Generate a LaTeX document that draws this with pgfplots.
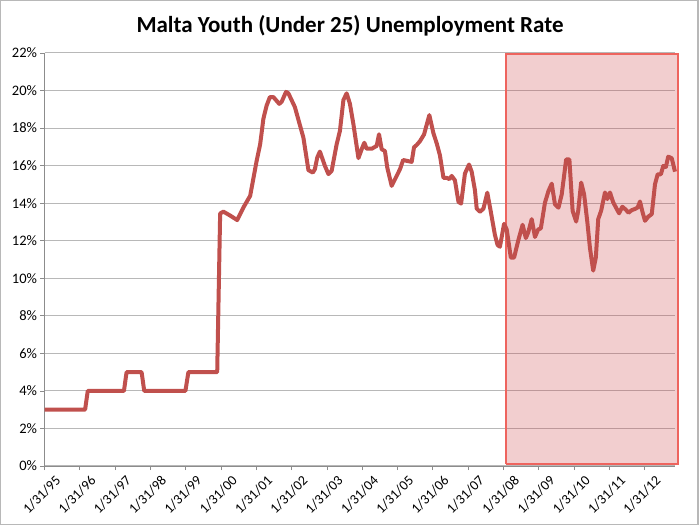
\documentclass[border=0pt]{standalone}
\usepackage{fontspec}
\setmainfont{Carlito}
\usepackage{pgfplots}
\pgfplotsset{compat=1.18}

\definecolor{linered}{RGB}{192,80,77}
\definecolor{boxfill}{RGB}{205,60,65}
\definecolor{boxedge}{RGB}{238,100,94}
\definecolor{gridgray}{RGB}{184,184,184}
\definecolor{axisgray}{RGB}{140,140,140}

\begin{document}
\begin{tikzpicture}
\useasboundingbox (0,0) rectangle (700bp,525bp);
\draw[gridgray, line width=1.2bp] (0.6bp,0.6bp) rectangle (698bp,524.4bp);
\node[anchor=base, font=\fontsize{23bp}{27bp}\selectfont\bfseries]
  at (350bp,492bp) {Malta Youth (Under 25) Unemployment Rate};

\begin{axis}[
    at={(44.5bp,59bp)}, anchor=south west,
    scale only axis, width=630.5bp, height=413bp,
    xmin=0, xmax=214.3, ymin=0, ymax=22,
    clip=false,
    axis x line=bottom, axis y line=left,
    axis line style={-, axisgray, line width=0.8bp},
    tick align=outside, major tick length=4bp,
    tick style={axisgray, line width=0.8bp},
    xtick={0,12,...,204},
    xticklabels={1/31/95,1/31/96,1/31/97,1/31/98,1/31/99,1/31/00,1/31/01,1/31/02,1/31/03,1/31/04,1/31/05,1/31/06,1/31/07,1/31/08,1/31/09,1/31/10,1/31/11,1/31/12},
    ytick={0,2,...,22},
    yticklabel={\pgfmathprintnumber{\tick}\%},
    /pgf/number format/assume math mode=true,
    yticklabel style={font=\fontsize{14.5bp}{17bp}\selectfont},
    xticklabel style={font=\fontsize{14bp}{16bp}\selectfont,
      rotate=45, anchor=north east, inner sep=1bp, xshift=5bp, yshift=-9bp},
    ymajorgrids=true,
    grid style={gridgray, line width=1bp},
]

% highlighted period since 2008
\addplot[draw=boxedge, line width=2bp, fill=boxfill, fill opacity=0.25, line join=miter]
  coordinates {(156.9,0.1) (156.9,21.95) (215.3,21.95) (215.3,0.1) (156.9,0.1)};

\addplot[linered, line width=4bp, line join=round] coordinates {
(0,3)(13.8,3)(14.7,4)(27,4)(27.9,5)(33,5)(33.9,4)(47.9,4)(48.9,5)(58.7,5)
(59.7,13.45)(60.8,13.55)(63,13.35)(65.5,13.1)(67.6,13.77)(69.9,14.39)(72.1,16.25)
(73.3,17.14)(74.4,18.5)(75.5,19.2)(76.6,19.65)(77.8,19.65)(79.8,19.29)(80.6,19.4)
(82.1,19.93)(82.9,19.85)(85.1,19.12)(88,17.49)(89.7,15.76)(91.2,15.63)(91.9,15.81)
(92.7,16.43)(93.6,16.75)(95.3,15.99)(96.5,15.55)(97.6,15.72)(99.3,17.14)(100.4,17.84)
(101.6,19.5)(102.7,19.85)(103.8,19.3)(105,18.2)(106.7,16.4)(107.8,16.87)(108.7,17.22)
(109.5,16.9)(111.2,16.9)(112.9,17.05)(113.7,17.67)(114.6,16.87)(115.7,16.78)(116.5,15.9)
(118,14.92)(120.8,15.8)(121.9,16.3)(123.3,16.25)(124.8,16.2)(125.6,16.98)(126.5,17.1)
(127.6,17.3)(129,17.66)(130.8,18.69)(132.2,17.72)(133.3,17.19)(134.4,16.55)(135.6,15.35)
(136.7,15.35)(137.6,15.28)(138.4,15.45)(139.5,15.22)(140.7,14.07)(141.6,13.98)(142.9,15.58)
(144.3,16.06)(145.2,15.67)(146.3,14.69)(146.9,13.71)(148,13.54)(149.2,13.71)(150.5,14.56)
(151.7,13.54)(153.1,12.3)(154,11.77)(154.8,11.68)(156.2,12.9)(157.1,12.6)(158.5,11.1)
(159.6,11.1)(161,12)(162.5,12.85)(163.6,12.14)(164.4,12.44)(165.6,13.15)(166.7,12.2)
(167.8,12.6)(168.7,12.66)(170.1,14.03)(171.3,14.65)(172.4,15.04)(173.5,13.94)(174.7,13.76)
(175.8,14.47)(177.3,16.33)(178.4,16.33)(179.5,13.59)(180.7,13.02)(181.4,13.59)(182.4,15.1)
(183.4,14.48)(184.5,13.0)(185.4,11.6)(186.5,10.41)(187.4,11.12)(188.2,13.15)(189.2,13.6)
(190.5,14.57)(191.3,14.22)(192.2,14.57)(193.3,14.04)(194.5,13.69)(195.3,13.46)(196.4,13.81)
(197.6,13.65)(198.5,13.49)(199.6,13.63)(200.7,13.69)(201.6,13.77)(202.4,14.09)(203.2,13.56)
(204.1,13.06)(205.2,13.28)(206.4,13.42)(207.5,15.01)(208.4,15.54)(209.5,15.54)(210.3,15.98)
(211.2,15.93)(212,16.48)(213.2,16.39)(214.3,15.68)
};
\end{axis}
\end{tikzpicture}
\end{document}
